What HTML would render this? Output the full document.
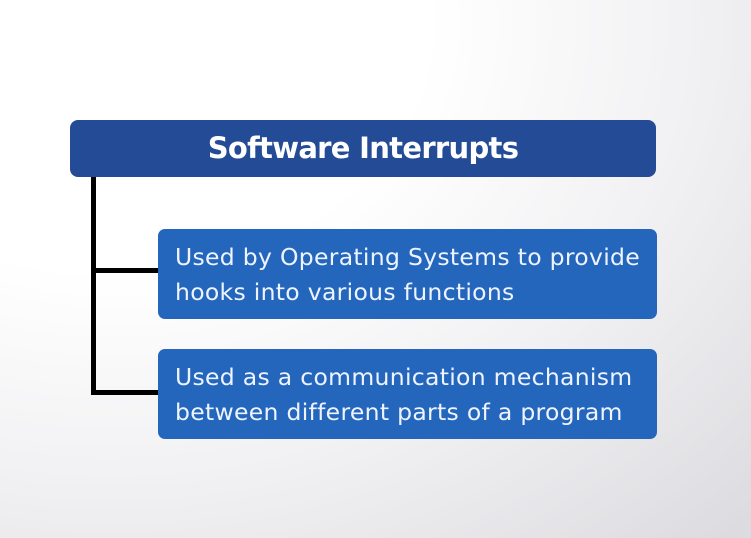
<!DOCTYPE html>
<html><head><meta charset="utf-8"><style>
html,body{margin:0;padding:0}
body{width:751px;height:538px;position:relative;overflow:hidden;font-family:"DejaVu Sans","Liberation Sans",sans-serif;
background:radial-gradient(ellipse 900px 700px at 15% 5%,#ffffff 35%,#f1f1f3 65%,#dcdce0 100%);}
.h{position:absolute;left:70px;top:120px;width:586px;height:57px;background:#244b96;border-radius:8px;color:#fff;font-weight:bold;font-size:29px;text-align:center;line-height:57px;letter-spacing:-0.7px}
.b{position:absolute;left:158px;width:499px;height:90px;background:#2566bd;border-radius:7px;color:#eef4ff;font-size:23.5px;line-height:35px;box-sizing:border-box;padding:11px 0 0 17px;letter-spacing:0.3px;white-space:nowrap}
.l{position:absolute;background:#000}
</style></head><body>
<div class="l" style="left:91px;top:177px;width:5px;height:218px"></div>
<div class="l" style="left:91px;top:268px;width:68px;height:5px"></div>
<div class="l" style="left:91px;top:390px;width:68px;height:5px"></div>
<div class="h">Software Interrupts</div>
<div class="b" style="top:229px">Used by Operating Systems to provide<br>hooks into various functions</div>
<div class="b" style="top:349px">Used as a communication mechanism<br>between different parts of a program</div>
</body></html>
